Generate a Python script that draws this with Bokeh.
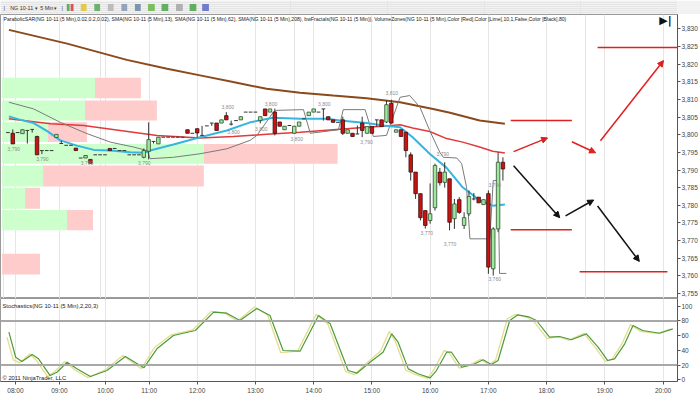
from bokeh.plotting import figure
from bokeh.layouts import column
from bokeh.models import (Range1d, FixedTicker, CustomJSTickFormatter, Grid, Span,
                          Label, Arrow, NormalHead)
from bokeh.core.properties import value
from bokeh.embed import file_html
from bokeh.resources import INLINE

FONT = "Liberation Sans"
W = 700

# ---------------- data ----------------
bars = list(range(-39, 64))
opens = [3.8006, 3.8004, 3.8006, 3.8003, 3.8012, 3.8015, 3.7995, 3.7955, 3.7955, 3.7955,
         3.7992, 3.7975, 3.7970, 3.7970, 3.7962, 3.7934, 3.7934, 3.7930, 3.7943, 3.7943,
         3.7943, 3.7961, 3.7961, 3.7955, 3.7955, 3.7943, 3.7943, 3.7943, 3.7936, 3.7953,
         3.7981, 3.7974, 3.7993, 3.7993, 3.7993, 3.7993, 3.7993, 3.8014, 3.8004, 3.8017,
         3.7998, 3.8025, 3.8033, 3.8033, 3.8033, 3.8054, 3.8030, 3.8040, 3.8042, 3.8064,
         3.8064, 3.8064, 3.8040, 3.8073, 3.8064, 3.8064, 3.8036, 3.8014, 3.8026, 3.8004,
         3.8024, 3.8045, 3.8054, 3.8064, 3.8064, 3.8073, 3.8051, 3.8042, 3.8035, 3.8042,
         3.8004, 3.8004, 3.8002, 3.8033, 3.8004, 3.8023, 3.8042, 3.8042, 3.8036, 3.8089,
         3.8007, 3.8014, 3.8007, 3.7943, 3.7894, 3.7833, 3.7785, 3.7757, 3.7793, 3.7894,
         3.7865, 3.7875, 3.7762, 3.7816, 3.7743, 3.7776, 3.7818, 3.7823, 3.7802, 3.7833,
         3.7620, 3.7733, 3.7922]
highs = [3.8006, 3.8015, 3.8006, 3.8015, 3.8012, 3.8015, 3.7997, 3.7955, 3.7955, 3.7955,
         3.8001, 3.7983, 3.7970, 3.7970, 3.7962, 3.7934, 3.7941, 3.7930, 3.7943, 3.7943,
         3.7943, 3.7961, 3.7961, 3.7955, 3.7955, 3.7943, 3.7943, 3.7943, 3.7961, 3.8035,
         3.7981, 3.7993, 3.7993, 3.7993, 3.7993, 3.7993, 3.7993, 3.8014, 3.8004, 3.8017,
         3.8025, 3.8025, 3.8033, 3.8033, 3.8042, 3.8064, 3.8040, 3.8040, 3.8051, 3.8064,
         3.8064, 3.8064, 3.8051, 3.8073, 3.8073, 3.8074, 3.8036, 3.8024, 3.8026, 3.8024,
         3.8036, 3.8045, 3.8064, 3.8073, 3.8064, 3.8073, 3.8051, 3.8042, 3.8035, 3.8051,
         3.8014, 3.8004, 3.8026, 3.8051, 3.8023, 3.8023, 3.8042, 3.8042, 3.8097, 3.8099,
         3.8014, 3.8014, 3.8007, 3.7950, 3.7894, 3.7833, 3.7785, 3.7862, 3.7918, 3.7906,
         3.7922, 3.7875, 3.7818, 3.7823, 3.7780, 3.7842, 3.7835, 3.7823, 3.7816, 3.7842,
         3.7738, 3.7950, 3.7936]
lows = [3.8006, 3.7974, 3.8006, 3.8003, 3.7975, 3.8006, 3.7943, 3.7945, 3.7955, 3.7955,
        3.7992, 3.7975, 3.7970, 3.7970, 3.7955, 3.7934, 3.7934, 3.7919, 3.7943, 3.7943,
        3.7943, 3.7955, 3.7961, 3.7955, 3.7955, 3.7943, 3.7943, 3.7943, 3.7933, 3.7930,
        3.7975, 3.7974, 3.7993, 3.7993, 3.7993, 3.7993, 3.7993, 3.8004, 3.8004, 3.7992,
        3.7998, 3.8025, 3.8025, 3.8012, 3.8033, 3.8042, 3.8026, 3.8040, 3.8042, 3.8064,
        3.8064, 3.8064, 3.8032, 3.8054, 3.8064, 3.7998, 3.8024, 3.8014, 3.8026, 3.8004,
        3.8024, 3.8045, 3.8054, 3.8064, 3.8064, 3.8040, 3.8042, 3.8035, 3.8035, 3.7999,
        3.8004, 3.7995, 3.8002, 3.7993, 3.8004, 3.8004, 3.8023, 3.8023, 3.8033, 3.8031,
        3.8007, 3.7995, 3.7936, 3.7870, 3.7818, 3.7757, 3.7734, 3.7748, 3.7785, 3.7856,
        3.7850, 3.7729, 3.7733, 3.7776, 3.7733, 3.7770, 3.7814, 3.7807, 3.7802, 3.7606,
        3.7601, 3.7724, 3.7870]
closes = [3.8006, 3.7974, 3.8006, 3.8014, 3.8012, 3.8015, 3.7943, 3.7955, 3.7955, 3.7955,
          3.8001, 3.7975, 3.7970, 3.7970, 3.7955, 3.7934, 3.7941, 3.7919, 3.7943, 3.7943,
          3.7943, 3.7955, 3.7961, 3.7955, 3.7955, 3.7943, 3.7943, 3.7943, 3.7955, 3.7986,
          3.7981, 3.7993, 3.7993, 3.7993, 3.7993, 3.7993, 3.7993, 3.8004, 3.8004, 3.8005,
          3.7998, 3.8025, 3.8033, 3.8012, 3.8042, 3.8042, 3.8030, 3.8040, 3.8051, 3.8064,
          3.8064, 3.8064, 3.8051, 3.8054, 3.8073, 3.8004, 3.8024, 3.8024, 3.8026, 3.8024,
          3.8036, 3.8045, 3.8064, 3.8073, 3.8064, 3.8073, 3.8042, 3.8035, 3.8035, 3.8004,
          3.8014, 3.7995, 3.8002, 3.8012, 3.8023, 3.8004, 3.8042, 3.8023, 3.8085, 3.8033,
          3.8014, 3.7995, 3.7955, 3.7894, 3.7833, 3.7765, 3.7743, 3.7776, 3.7913, 3.7864,
          3.7894, 3.7752, 3.7804, 3.7780, 3.7765, 3.7825, 3.7818, 3.7807, 3.7816, 3.7625,
          3.7733, 3.7922, 3.7903]

hour_pos = [-37.45, -28.4, -18.9, -9.9, 0, 12, 24, 36, 48, 60, 72, 84, 96]
hour_labels = ["08:00", "09:00", "10:00", "11:00", "12:00", "13:00", "14:00",
               "15:00", "16:00", "17:00", "18:00", "19:00", "20:00"]
price_ticks = [3.755, 3.760, 3.765, 3.770, 3.775, 3.780, 3.785, 3.790,
               3.795, 3.800, 3.805, 3.810, 3.815, 3.820, 3.825, 3.830]
stoch_ticks = [0, 20, 40, 60, 80, 100]
stoch_levels = [20, 80]

# moving averages (vertices)
sma13_x = [-38.8, -36.4, -33.7, -30.9, -28.2, -24.8, -21.3, -17.9, -13.8, -11.0, -9.7, -4.9,
           0.6, 6.1, 10.9, 15.6, 21.2, 26.7, 29.4, 34.9, 38.3, 41.8, 44.4, 47.9, 51.4,
           54.7, 58.2, 60.9, 63.4]
sma13_y = [3.8052, 3.8042, 3.8033, 3.8010, 3.7984, 3.7969, 3.7957, 3.7955, 3.7950, 3.7949,
           3.7955, 3.7972, 3.7993, 3.8012, 3.8035, 3.8048, 3.8045, 3.8045, 3.8040, 3.8033,
           3.8026, 3.8021, 3.7993, 3.7946, 3.7906, 3.7851, 3.7814, 3.7799, 3.7802]
sma62_x = [-38.8, -30.2, -23.4, -8.3, 0.6, 7.4, 14.3, 21.2, 28.0, 34.9, 38.3, 41.8,
           44.4, 47.9, 51.4, 54.7, 58.2, 60.9, 63.4]
sma62_y = [3.8045, 3.8031, 3.8026, 3.7998, 3.7991, 3.7995, 3.8001, 3.8007, 3.8014, 3.8021,
           3.8024, 3.8028, 3.8019, 3.8009, 3.7989, 3.7979, 3.7965, 3.7953, 3.7948]
sma208_x = [-38.8, -26.8, -14.5, -6.2, 0.6, 7.4, 14.3, 21.2, 28.0, 34.9, 41.8, 48.6,
            52.1, 58.2, 63.4]
sma208_y = [3.8297, 3.8258, 3.8212, 3.8187, 3.8168, 3.8149, 3.8130, 3.8119, 3.8111,
            3.8103, 3.8092, 3.8073, 3.8062, 3.8040, 3.8031]
sar_x = [-38.8, -33.7, -28.2, -22.7, -17.9, -13.1, -10.3, -9.7, -4.9, 0.6, 6.1, 10.9,
         12.3, 15.7, 16.4, 21.9, 23.3, 29.1, 30.1, 34.6, 36.3, 39.0, 41.8, 43.8, 45.9,
         47.9, 50.0, 50.7, 53.5, 54.5, 55.5, 56.2, 60.3, 61.0, 62.0, 62.3, 63.7]
sar_y = [3.8092, 3.8073, 3.8035, 3.8003, 3.7979, 3.7965, 3.7955, 3.7932, 3.7936, 3.7946,
         3.7960, 3.7984, 3.7998, 3.8064, 3.8069, 3.8071, 3.8004, 3.8014, 3.8071, 3.8071,
         3.7995, 3.7998, 3.8106, 3.8111, 3.8078, 3.8012, 3.7950, 3.7936, 3.7934, 3.7918,
         3.7851, 3.7705, 3.7705, 3.7870, 3.7870, 3.7607, 3.7607]

# volume zones: price band, up volume, down volume
zone_lo = [3.8103, 3.8040, 3.7979, 3.7918, 3.7853, 3.7790, 3.7729, 3.7604]
zone_hi = [3.8161, 3.8097, 3.8035, 3.7974, 3.7913, 3.7850, 3.7787, 3.7663]
zone_up = [930, 830, 460, 2020, 410, 230, 650, 0]
zone_dn = [460, 720, 390, 1340, 1610, 150, 260, 380]
VOL_TO_BARS = 1.0 / 48.6
ZONE_START = -40.2

# swing labels
swing_x = [-37.8, -31.9, -22.7, -10.9, 6.3, 7.5, 13.2, 15.2, 20.5, 26.2, 34.9, 40.1,
           47.3, 50.6, 52.1, 61.3, 61.3]
swing_y = [3.7960, 3.7930, 3.7920, 3.7920, 3.8078, 3.8009, 3.8017, 3.8088, 3.7988,
           3.8088, 3.7979, 3.8119, 3.7721, 3.7944, 3.7689, 3.7858, 3.7590]
swing_txt = ["3,790", "3,790", "3,790", "3,790", "3,800", "3,800", "3,800", "3,800",
             "3,800", "3,800", "3,790", "3,810", "3,770", "3,790", "3,770", "3,790", "3,760"]

# hand drawn projection lines / arrows
hl_x0 = [82.5, 64.6, 64.6, 78.8]
hl_x1 = [98.97, 77.2, 77.2, 96.9]
hl_y = [3.8247, 3.8040, 3.7731, 3.7612]
red_arrow = [(65.2, 3.7952, 72.2, 3.7991), (77.2, 3.7980, 82.1, 3.7949),
             (83.1, 3.7983, 96.1, 3.8210)]
black_arrow = [(65.2, 3.7912, 74.7, 3.7765), (75.9, 3.7770, 81.7, 3.7815),
               (82.5, 3.7798, 91.1, 3.7641)]

# stochastics (vertices)
stoch_d_x = [-38.8, -37.4, -36.1, -34.0, -32.7, -30.3, -28.9, -26.8, -24.8, -22.0, -18.6,
             -14.8, -11.0, -8.3, -4.9, -0.4, 3.4, 6.1, 8.8, 12.3, 15.0, 17.7, 21.2, 25.0,
             27.4, 31.1, 32.9, 35.6, 38.3, 40.1, 41.4, 43.5, 45.5, 48.0, 49.3, 51.4, 52.4,
             54.5, 56.9, 58.9, 60.6, 62.0, 64.4, 66.1, 68.5, 69.9, 72.6, 74.7, 77.1, 80.2,
             82.6, 84.6, 86.0, 88.1, 89.8, 91.8, 95.3, 98.0]
stoch_d_v = [64.7, 30.7, 24.9, 34.4, 28.5, 5.8, 10.3, 23.9, 14.9, 4.5, 12.6, 31.7, 16.3,
             42.1, 60.2, 67.0, 91.9, 90.5, 80.6, 97.0, 87.4, 39.8, 38.9, 87.4, 76.1, 12.6,
             9.0, 23.9, 37.5, 62.5, 51.1, 14.9, 8.2, 2.7, 12.6, 37.5, 37.5, 17.1, 20.8,
             27.2, 20.8, 26.2, 80.6, 88.3, 85.1, 80.6, 57.9, 58.8, 54.4, 62.5, 44.3, 26.2,
             28.5, 48.9, 73.8, 67.0, 63.3, 69.3]
stoch_k_x = [-39.2, -37.9, -36.6, -34.5, -33.2, -30.8, -29.4, -27.3, -25.3, -22.5, -19.1,
             -15.3, -11.5, -8.8, -5.4, -0.9, 2.9, 5.6, 8.3, 11.8, 14.5, 17.2, 20.7, 24.5,
             26.9, 30.6, 32.4, 35.1, 37.8, 39.6, 40.9, 43.0, 45.0, 47.5, 48.8, 50.9, 51.9,
             54.0, 56.4, 58.4, 60.1, 61.5, 63.9, 65.6, 68.0, 69.4, 72.1, 74.2, 76.6, 79.7,
             82.1, 84.1, 85.5, 87.6, 89.3, 91.3, 94.8, 97.5]
stoch_k_v = [58, 27, 23, 35, 27, 4, 11, 25, 14, 3, 13, 33, 15, 44, 61, 68, 93, 91, 80,
             99, 88, 37, 39, 89, 76, 11, 7, 24, 39, 66, 51, 13, 7, 2, 14, 40, 37, 16, 21,
             28, 20, 27, 83, 89, 85, 79, 56, 59, 54, 63, 43, 25, 28, 50, 75, 66, 63, 69]

X0, X1 = -40.53, 98.97
Y0, Y1 = 3.75360, 3.83405

# ---------------- toolbar strip ----------------
tb = figure(width=W, height=14, x_range=Range1d(0, W), y_range=Range1d(0, 14),
            output_backend="svg", toolbar_location=None, x_axis_location=None,
            y_axis_location=None, min_border=0, outline_line_color=None,
            background_fill_color="#f2f2f2", border_fill_color="#f2f2f2")
tb.text(x=[3, 10, 36, 41, 55, 63], y=[7] * 6,
        text=["|", "NG 10-11", "\u25be", "5 Min", "\u25be", "|"],
        text_font=value(FONT), text_font_size="5.4px", text_color="#333333",
        text_baseline="middle")
tb.rect(x=[70, 74, 86, 100, 114, 128, 142, 156, 170, 185, 199, 212],
        y=[7] * 12, width=[3, 3, 6, 6, 6, 6, 6, 7, 7, 7, 7, 7], height=[7] * 12,
        fill_color=["#40a040", "#d03030", "#e0c020", "#50a050", "#b0b0b0", "#8090b0",
                    "#6080a0", "#60b040", "#40a040", "#a0a0a0", "#40a040", "#5060c0"],
        line_color=None, fill_alpha=0.8)

# ---------------- price panel ----------------
p = figure(width=W, height=284, x_range=Range1d(X0, X1), y_range=Range1d(Y0, Y1),
           output_backend="svg", toolbar_location=None, x_axis_location=None,
           y_axis_location="right", min_border_left=0, min_border_right=22,
           min_border_top=0, min_border_bottom=0, outline_line_color="#9a9a9a",
           background_fill_color="white", border_fill_color="white")
p.ygrid.visible = False
p.add_layout(Grid(dimension=0, ticker=FixedTicker(ticks=hour_pos),
                  grid_line_color="#e6e6e6"))
ya = p.yaxis[0]
ya.ticker = FixedTicker(ticks=price_ticks)
ya.formatter = CustomJSTickFormatter(code="return tick.toFixed(3).replace('.', ',');")
ya.major_label_text_font = FONT
ya.major_label_text_font_size = "6.5px"
ya.major_label_text_color = "#444444"
ya.major_tick_out = 3
ya.major_tick_in = 0
ya.minor_tick_line_color = None
ya.major_label_standoff = 1
ya.axis_line_color = "#555555"
ya.major_tick_line_color = "#555555"

# volume zones
up_right = [ZONE_START + u * VOL_TO_BARS for u in zone_up]
dn_right = [r + d * VOL_TO_BARS for r, d in zip(up_right, zone_dn)]
p.quad(left=[ZONE_START] * len(zone_lo), right=up_right, bottom=zone_lo, top=zone_hi,
       fill_color="#ccffcc", line_color=None)
p.quad(left=up_right, right=dn_right, bottom=zone_lo, top=zone_hi,
       fill_color="#ffcccc", line_color=None)

# indicator lines
p.line(sma208_x, sma208_y, line_color="#8b4a1c", line_width=2)
p.line(sma62_x, sma62_y, line_color="#e03a3a", line_width=1.5)
p.line(sar_x, sar_y, line_color="#7a7a7a", line_width=1)
p.line(sma13_x, sma13_y, line_color="#35b5e0", line_width=2)

# candles
up_x, up_t, up_b = [], [], []
dn_x, dn_t, dn_b = [], [], []
dj_x, dj_y = [], []
for b, o, c in zip(bars, opens, closes):
    if c > o:
        up_x.append(b); up_t.append(c); up_b.append(o)
    elif c < o:
        dn_x.append(b); dn_t.append(o); dn_b.append(c)
    else:
        dj_x.append(b); dj_y.append(o)
p.segment(x0=bars, y0=lows, x1=bars, y1=highs, line_color="#333333", line_width=1)
p.vbar(x=up_x, width=0.72, top=up_t, bottom=up_b, fill_color="#9ee89e",
       line_color="#2f4f2f", line_width=0.8)
p.vbar(x=dn_x, width=0.72, top=dn_t, bottom=dn_b, fill_color="#cc1111",
       line_color="#3a1010", line_width=0.8)
p.segment(x0=[x - 0.38 for x in dj_x], y0=dj_y, x1=[x + 0.38 for x in dj_x], y1=dj_y,
          line_color="#333333", line_width=1)

# swing labels
p.text(x=swing_x, y=swing_y, text=swing_txt, text_font=value(FONT),
       text_font_size="5px", text_color="#8c8c8c", text_align="center",
       text_baseline="middle")

# drawn lines and arrows
p.segment(x0=hl_x0, y0=hl_y, x1=hl_x1, y1=hl_y, line_color="#e02020", line_width=1.5)
for (xa, ya0, xb, yb) in red_arrow:
    p.add_layout(Arrow(x_start=xa, y_start=ya0, x_end=xb, y_end=yb,
                       line_color="#e02020", line_width=1.5,
                       end=NormalHead(size=6, fill_color="#e02020", line_color="#e02020")))
for (xa, ya0, xb, yb) in black_arrow:
    p.add_layout(Arrow(x_start=xa, y_start=ya0, x_end=xb, y_end=yb,
                       line_color="#111111", line_width=1.5,
                       end=NormalHead(size=6, fill_color="#111111", line_color="#111111")))

p.add_layout(Label(x=X0, y=3.8337, x_offset=3, text=(
    "ParabolicSAR(NG 10-11 (5 Min),0.02,0.2,0.02), SMA(NG 10-11 (5 Min),13), "
    "SMA(NG 10-11 (5 Min),62), SMA(NG 10-11 (5 Min),208), bwFractals(NG 10-11 (5 Min)), "
    "VolumeZones(NG 10-11 (5 Min),Color [Red],Color [Lime],10,1,False,Color [Black],80)"),
    text_font=FONT, text_font_size="5.1px", text_color="#222222", text_baseline="top"))
p.add_layout(Label(x=96.5, y=3.8323, text="\u25b6|", text_font="DejaVu Sans",
                   text_font_size="11px", text_font_style="bold", text_color="#111111",
                   text_align="center", text_baseline="middle"))

# ---------------- stochastics panel ----------------
s = figure(width=W, height=98, x_range=p.x_range, y_range=Range1d(-2.3, 110.5),
           output_backend="svg", toolbar_location=None, x_axis_location="below",
           y_axis_location="right", min_border_left=0, min_border_right=22,
           min_border_top=0, min_border_bottom=15, outline_line_color="#9a9a9a",
           background_fill_color="white", border_fill_color="white")
s.ygrid.visible = False
xa_ = s.xaxis[0]
xa_.ticker = FixedTicker(ticks=hour_pos)
xa_.major_label_overrides = {h: l for h, l in zip(hour_pos, hour_labels)}
xa_.major_label_text_font = FONT
xa_.major_label_text_font_size = "6.5px"
xa_.major_label_text_color = "#444444"
xa_.major_tick_out = 3
xa_.major_tick_in = 0
xa_.minor_tick_line_color = None
xa_.major_label_standoff = 2
xa_.axis_line_color = "#555555"
xa_.major_tick_line_color = "#555555"
s.xgrid.grid_line_color = "#e6e6e6"
sy = s.yaxis[0]
sy.ticker = FixedTicker(ticks=stoch_ticks)
sy.major_label_text_font = FONT
sy.major_label_text_font_size = "6.5px"
sy.major_label_text_color = "#444444"
sy.major_tick_out = 3
sy.major_tick_in = 0
sy.minor_tick_line_color = None
sy.major_label_standoff = 1
sy.axis_line_color = "#555555"
sy.major_tick_line_color = "#555555"
for lv in stoch_levels:
    s.add_layout(Span(location=lv, dimension="width", line_color="#a8a8a8", line_width=2))
s.line(stoch_k_x, stoch_k_v, line_color="#e2de8c", line_width=1.3)
s.line(stoch_d_x, stoch_d_v, line_color="#4f9a3c", line_width=1.2)
s.add_layout(Label(x=X0, y=104, x_offset=2, text="Stochastics(NG 10-11 (5 Min),2,20,3)",
                   text_font=FONT, text_font_size="5.8px", text_color="#222222",
                   text_baseline="top"))
s.add_layout(Label(x=X0, y=-2.3, x_offset=2, y_offset=1, text="\u00a9 2011 NinjaTrader, LLC",
                   text_font=FONT, text_font_size="5.8px", text_color="#222222",
                   text_baseline="bottom"))

layout = column(tb, p, s, spacing=0)
open("out.html", "w").write(file_html(layout, INLINE))
